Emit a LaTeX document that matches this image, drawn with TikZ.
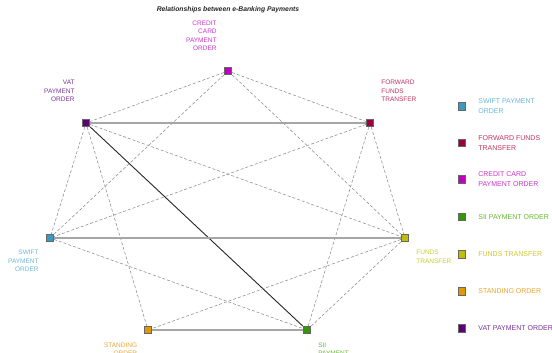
\documentclass[tikz,border=0pt]{standalone}
\usepackage{fontspec}
\setmainfont{Liberation Sans}
\usetikzlibrary{positioning}

\definecolor{swiftF}{HTML}{3A9BBF}\definecolor{swiftT}{HTML}{6BB8D6}
\definecolor{fftF}{HTML}{99003D}\definecolor{fftT}{HTML}{C0335F}
\definecolor{ccF}{HTML}{C000C0}\definecolor{ccT}{HTML}{CC33CC}
\definecolor{siiF}{HTML}{339900}\definecolor{siiT}{HTML}{66B833}
\definecolor{ftF}{HTML}{BFBF00}\definecolor{ftT}{HTML}{C8C830}
\definecolor{soF}{HTML}{E09A00}\definecolor{soT}{HTML}{E6A633}
\definecolor{vatF}{HTML}{5C0073}\definecolor{vatT}{HTML}{7A3399}

\begin{document}
\begin{tikzpicture}[x=1pt, y=1pt,
  box/.style={draw=black!60, line width=0.8pt, minimum size=7.5pt, inner sep=0pt},
  lbl/.style={font=\fontsize{6.5}{8.3}\selectfont, inner sep=0pt},
  key/.style={font=\fontsize{7}{10.2}\selectfont, inner sep=0pt, align=left, right=12pt of #1},
  link/.style={black!45, densely dashed, line width=0.55pt},
  twin/.style={draw=black!55, double=black!35, double distance=1.4pt, line width=0.7pt},
  strong/.style={black!85, line width=0.9pt}]
  \useasboundingbox (0,0) rectangle (552,353);
  \clip (0,0) rectangle (552,353);

  \node[font=\fontsize{6.8}{8}\selectfont\bfseries\itshape, text=black!85] (title) at (228,343) {Relationships between e-Banking Payments};

  % payment types
  \node[box, fill=ccF] (cc) at (228,282) {};
  \node[box, fill=fftF] (fft) at (370,230) {};
  \node[box, fill=ftF] (ft) at (405,115) {};
  \node[box, fill=siiF] (sii) at (307,23) {};
  \node[box, fill=soF] (so) at (148,23) {};
  \node[box, fill=swiftF] (swift) at (50,115) {};
  \node[box, fill=vatF] (vat) at (86,230) {};

  \node[lbl, text=ccT, align=right, above left=16pt and 7pt of cc] (cclbl) {CREDIT\\CARD\\PAYMENT\\ORDER};
  \node[lbl, text=fftT, align=left, above right=17pt and 7pt of fft] (fftlbl) {FORWARD\\FUNDS\\TRANSFER};
  \node[lbl, text=ftT, align=left, below right=8pt and 7pt of ft] (ftlbl) {FUNDS\\TRANSFER};
  \node[lbl, text=siiT, align=left, below right=8.5pt and 7pt of sii] (siilbl) {SII\\PAYMENT\\ORDER};
  \node[lbl, text=soT, align=right, below left=8.5pt and 6.5pt of so] (solbl) {STANDING\\ORDER};
  \node[lbl, text=swiftT, align=right, below left=8pt and 7pt of swift] (swiftlbl) {SWIFT\\PAYMENT\\ORDER};
  \node[lbl, text=vatT, align=right, above left=17pt and 7pt of vat] (vatlbl) {VAT\\PAYMENT\\ORDER};

  % relationships
  \draw[link] (cc) -- (vat);
  \draw[link] (cc) -- (fft);
  \draw[link] (cc) -- (swift);
  \draw[link] (cc) -- (ft);
  \draw[twin] (vat) -- (fft);
  \draw[link] (vat) -- (swift);
  \draw[link] (vat) -- (so);
  \draw[strong] (vat) -- (sii);
  \draw[link] (vat) -- (ft);
  \draw[link] (fft) -- (swift);
  \draw[link] (fft) -- (ft);
  \draw[link] (fft) -- (sii);
  \draw[twin] (swift) -- (ft);
  \draw[link] (swift) -- (sii);
  \draw[link] (ft) -- (so);
  \draw[link] (ft) -- (sii);
  \draw[twin] (so) -- (sii);

  % legend
  \node[box, fill=swiftF] (k1) at (462,246.7) {};
  \node[box, fill=fftF] (k2) at (462,210) {};
  \node[box, fill=ccF] (k3) at (462,173.7) {};
  \node[box, fill=siiF] (k4) at (462,136.3) {};
  \node[box, fill=ftF] (k5) at (462,98.7) {};
  \node[box, fill=soF] (k6) at (462,61.7) {};
  \node[box, fill=vatF] (k7) at (462,24.7) {};
  \node[key=k1, text=swiftT] (k1txt) {SWIFT PAYMENT\\ORDER};
  \node[key=k2, text=fftT] (k2txt) {FORWARD FUNDS\\TRANSFER};
  \node[key=k3, text=ccT] (k3txt) {CREDIT CARD\\PAYMENT ORDER};
  \node[key=k4, text=siiT] (k4txt) {SII PAYMENT ORDER};
  \node[key=k5, text=ftT] (k5txt) {FUNDS TRANSFER};
  \node[key=k6, text=soT] (k6txt) {STANDING ORDER};
  \node[key=k7, text=vatT] (k7txt) {VAT PAYMENT ORDER};
\end{tikzpicture}
\end{document}
